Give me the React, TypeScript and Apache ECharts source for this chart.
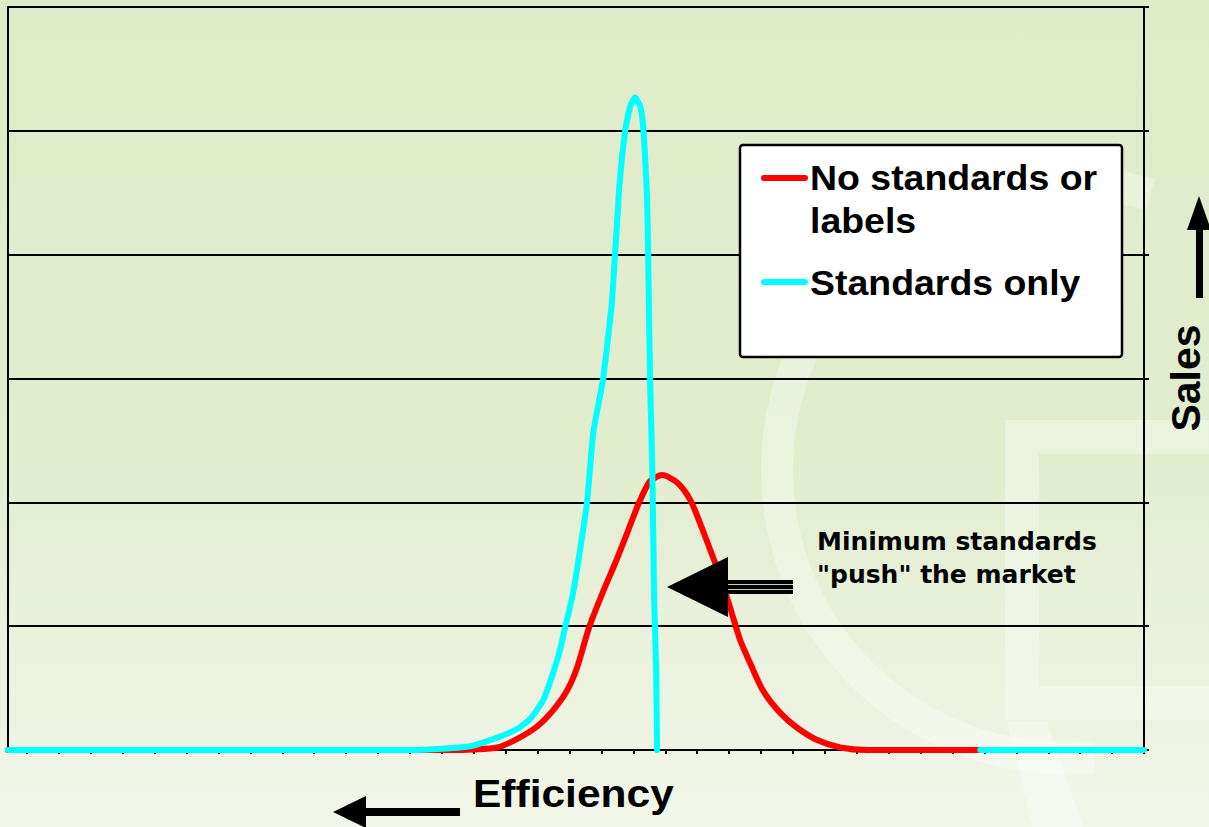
import React, { useEffect, useRef } from "react";
import * as echarts from "echarts";

// ---- data (x in efficiency tick units, y in sales gridline units) ----
const seriesNames = ["No standards or labels", "Standards only"];

const noStdX = [-0.6, 13.26, 13.98, 14.73, 15.36, 15.98, 16.48, 16.92, 17.24, 17.61, 18.05, 18.43, 18.8, 19.18, 19.52, 19.9, 20.37, 20.78, 21.09, 21.4, 21.72, 22.03, 22.34, 22.66, 23.06, 23.6, 24.13, 24.76, 25.48, 26.32, 29.87];
const noStdY = [0, 0, 0.005, 0.02, 0.09, 0.19, 0.32, 0.48, 0.67, 0.99, 1.28, 1.51, 1.75, 2.0, 2.17, 2.22, 2.16, 2.02, 1.83, 1.62, 1.4, 1.15, 0.89, 0.7, 0.48, 0.3, 0.18, 0.08, 0.02, 0, 0];

const stdX = [-0.6, 12.0, 13.0, 13.88, 14.73, 15.36, 15.76, 16.17, 16.48, 16.7, 16.86, 17.11, 17.33, 17.55, 17.74, 18.05, 18.33, 18.55, 18.74, 18.9, 19.05, 19.21, 19.3, 19.37, 19.43, 19.46, 19.52, 19.59, 19.65, 19.71, 19.74, 24.0, 29.87, 35.0];
const stdY: (number | null)[] = [0, 0, 0.01, 0.03, 0.1, 0.17, 0.25, 0.4, 0.62, 0.81, 0.99, 1.27, 1.62, 2.01, 2.56, 3.0, 3.63, 4.52, 5.0, 5.2, 5.27, 5.2, 5.05, 4.76, 4.44, 4.01, 3.0, 2.29, 1.21, 0.67, 0, null, 0, 0];

const xAxisTitle = "Efficiency";
const yAxisTitle = "Sales";
const legendLines = [["No standards or", "labels"], ["Standards only"]];
const annotationLines = ["Minimum standards", "\"push\" the market"];

const X_MIN = -0.6;
const X_MAX = 35;
const Y_MIN = 0;
const Y_MAX = 6;

export default function App() {
  const ref = useRef<HTMLDivElement>(null);

  useEffect(() => {
    const chart = echarts.init(ref.current!, null, { renderer: "svg" });

    const redData = noStdX.map((x, i) => [x, noStdY[i]]);
    const cyanData = stdX.map((x, i) => [x, stdY[i] === null ? "-" : stdY[i]]);

    const light = "rgba(255,255,255,0.32)";
    const arial = '"Liberation Sans", Arial, Helvetica, sans-serif';

    const option: any = {
      animation: false,
      backgroundColor: new echarts.graphic.LinearGradient(0, 0, 0, 1, [
        { offset: 0, color: "#DEEBC8" },
        { offset: 0.55, color: "#E2EDCE" },
        { offset: 1, color: "#F2F6EA" },
      ]),
      grid: [
        { left: 8, right: 65, top: 7, bottom: 77 },
        { left: 27, right: 65, top: 7, bottom: 77 },
      ],
      xAxis: [
        {
          type: "value",
          gridIndex: 0,
          min: X_MIN,
          max: X_MAX,
          axisLine: { show: true, onZero: false, lineStyle: { color: "#000", width: 2 } },
          axisTick: { show: false },
          axisLabel: { show: false },
          splitLine: { show: false },
        },
        {
          type: "value",
          gridIndex: 1,
          min: 0,
          max: X_MAX,
          interval: 1,
          axisLine: { show: false, onZero: false },
          axisTick: { show: true, length: 4, lineStyle: { color: "#000", width: 2 } },
          axisLabel: { show: false },
          splitLine: { show: false },
        },
      ],
      yAxis: [
        {
          type: "value",
          gridIndex: 0,
          position: "right",
          min: Y_MIN,
          max: Y_MAX,
          interval: 1,
          axisLine: { show: true, onZero: false, lineStyle: { color: "#000", width: 2 } },
          axisTick: { show: true, length: 5, lineStyle: { color: "#000", width: 2 } },
          axisLabel: { show: false },
          splitLine: { show: true, lineStyle: { color: "#000", width: 2 } },
        },
        {
          type: "value",
          gridIndex: 0,
          position: "left",
          min: Y_MIN,
          max: Y_MAX,
          axisLine: { show: true, onZero: false, lineStyle: { color: "#000", width: 2 } },
          axisTick: { show: false },
          axisLabel: { show: false },
          splitLine: { show: false },
        },
        {
          type: "value",
          gridIndex: 1,
          min: Y_MIN,
          max: Y_MAX,
          show: false,
          axisLine: { show: false, onZero: false },
          splitLine: { show: false },
        },
      ],
      series: [
        {
          name: seriesNames[0],
          type: "line",
          xAxisIndex: 0,
          yAxisIndex: 0,
          data: redData,
          showSymbol: false,
          symbol: "none",
          clip: false,
          smooth: 0.25,
          lineStyle: { color: "#FF0000", width: 6, cap: "round", join: "round" },
          z: 3,
        },
        {
          name: seriesNames[1],
          type: "line",
          xAxisIndex: 0,
          yAxisIndex: 0,
          data: cyanData,
          showSymbol: false,
          symbol: "none",
          clip: false,
          smooth: 0.15,
          connectNulls: false,
          lineStyle: { color: "#00FFFF", width: 6, cap: "round", join: "round" },
          z: 4,
        },
      ],
      graphic: [
        // faint background decorations
        {
          type: "arc",
          z: -1,
          silent: true,
          shape: { cx: 1065, cy: 470, r: 288, startAngle: Math.PI / 2 - 0.1, endAngle: Math.PI * 1.5 + 0.3, clockwise: true },
          style: { stroke: light, lineWidth: 32, fill: null },
        },
        {
          type: "rect",
          z: -1,
          silent: true,
          shape: { x: 1022, y: 437, width: 400, height: 266 },
          style: { stroke: light, lineWidth: 34, fill: null },
        },
        {
          type: "polygon",
          z: -1,
          silent: true,
          shape: { points: [[1007, 722], [1047, 722], [1083, 827], [1033, 827]] },
          style: { fill: light },
        },
        // legend box
        {
          type: "rect",
          z: 100,
          shape: { x: 740, y: 145, width: 382, height: 212, r: 3 },
          style: { fill: "#FFFFFF", stroke: "#000", lineWidth: 2.5 },
        },
        {
          type: "line",
          z: 101,
          shape: { x1: 764, y1: 178, x2: 805, y2: 178 },
          style: { stroke: "#FF0000", lineWidth: 6, lineCap: "round" },
        },
        {
          type: "line",
          z: 101,
          shape: { x1: 764, y1: 282, x2: 805, y2: 282 },
          style: { stroke: "#00FFFF", lineWidth: 6, lineCap: "round" },
        },
        {
          type: "text",
          z: 101,
          x: 810,
          y: 178,
          scaleX: 1.07,
          style: { text: legendLines[0][0], fontFamily: arial, fontWeight: "bold", fontSize: 35, fill: "#000", align: "left", verticalAlign: "middle" },
        },
        {
          type: "text",
          z: 101,
          x: 810,
          y: 221,
          scaleX: 1.07,
          style: { text: legendLines[0][1], fontFamily: arial, fontWeight: "bold", fontSize: 35, fill: "#000", align: "left", verticalAlign: "middle" },
        },
        {
          type: "text",
          z: 101,
          x: 810,
          y: 283,
          scaleX: 1.07,
          style: { text: legendLines[1][0], fontFamily: arial, fontWeight: "bold", fontSize: 35, fill: "#000", align: "left", verticalAlign: "middle" },
        },
        // annotation arrow
        {
          type: "polygon",
          z: 100,
          shape: { points: [[667, 587], [728, 557], [728, 617]] },
          style: { fill: "#000" },
        },
        {
          type: "rect",
          z: 100,
          shape: { x: 727, y: 580, width: 66, height: 14 },
          style: { fill: "#000" },
        },
        {
          type: "line",
          z: 101,
          shape: { x1: 728, y1: 584.5, x2: 793, y2: 584.5 },
          style: { stroke: "#C8D2B8", lineWidth: 1.2 },
        },
        {
          type: "line",
          z: 101,
          shape: { x1: 728, y1: 589.5, x2: 793, y2: 589.5 },
          style: { stroke: "#C8D2B8", lineWidth: 1.2 },
        },
        {
          type: "text",
          z: 100,
          x: 817,
          y: 541,
          style: { text: annotationLines[0], fontFamily: '"DejaVu Sans", sans-serif', fontWeight: "bold", fontSize: 25, fill: "#000", align: "left", verticalAlign: "middle" },
        },
        {
          type: "text",
          z: 100,
          x: 817,
          y: 574,
          style: { text: annotationLines[1], fontFamily: '"DejaVu Sans", sans-serif', fontWeight: "bold", fontSize: 25, fill: "#000", align: "left", verticalAlign: "middle" },
        },
        // x axis title + arrow
        {
          type: "text",
          z: 100,
          x: 473,
          y: 794,
          scaleX: 1.09,
          style: { text: xAxisTitle, fontFamily: arial, fontWeight: "bold", fontSize: 39, fill: "#000", align: "left", verticalAlign: "middle" },
        },
        {
          type: "polygon",
          z: 100,
          shape: { points: [[333, 812], [366, 796], [366, 828]] },
          style: { fill: "#000" },
        },
        {
          type: "rect",
          z: 100,
          shape: { x: 364, y: 808, width: 96, height: 8 },
          style: { fill: "#000" },
        },
        // y axis title + arrow
        {
          type: "text",
          z: 100,
          x: 1186,
          y: 378,
          rotation: Math.PI / 2,
          style: { text: yAxisTitle, fontFamily: arial, fontWeight: "bold", fontSize: 41, fill: "#000", align: "center", verticalAlign: "middle" },
        },
        {
          type: "polygon",
          z: 100,
          shape: { points: [[1199, 196], [1187, 230], [1211, 230]] },
          style: { fill: "#000" },
        },
        {
          type: "rect",
          z: 100,
          shape: { x: 1196, y: 228, width: 7, height: 70 },
          style: { fill: "#000" },
        },
      ],
    };

    chart.setOption(option);
    return () => chart.dispose();
  }, []);

  return (
    <div
      ref={ref}
      style={{ position: "absolute", left: 0, top: 0, width: 1209, height: 827 }}
    />
  );
}
